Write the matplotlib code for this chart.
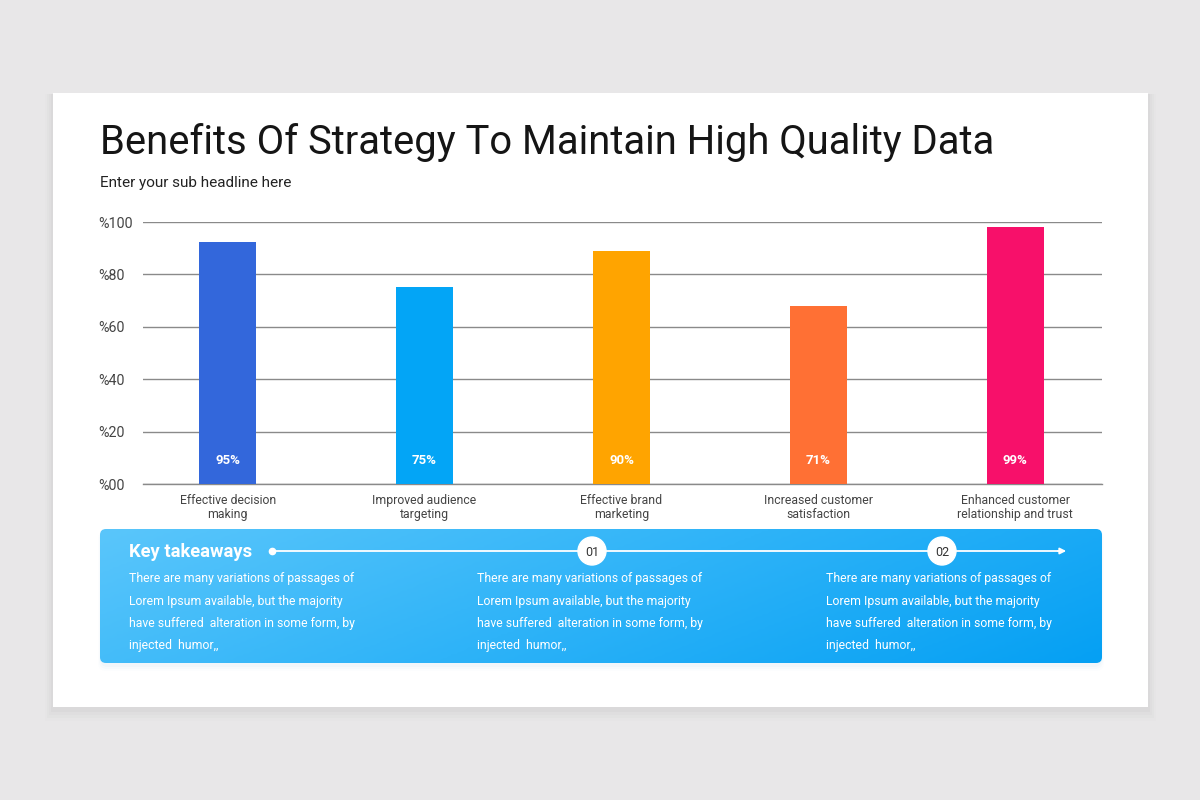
import numpy as np
import matplotlib.pyplot as plt
from matplotlib.patches import FancyBboxPatch, Rectangle, Circle
from matplotlib.colors import LinearSegmentedColormap

plt.rcParams['font.family'] = ['Roboto', 'DejaVu Sans']

# data
categories = ["Effective decision\nmaking", "Improved audience\ntargeting",
              "Effective brand\nmarketing", "Increased customer\nsatisfaction",
              "Enhanced customer\nrelationship and trust"]
bar_values = [92.5, 75.2, 88.9, 67.9, 98.1]
value_labels = ["95%", "75%", "90%", "71%", "99%"]
bar_colors = ["#3367db", "#03a5f6", "#ffa400", "#ff7034", "#f7106a"]
y_ticks = [0, 20, 40, 60, 80, 100]
y_tick_labels = ["%00", "%20", "%40", "%60", "%80", "%100"]

title = "Benefits Of Strategy To Maintain High Quality Data"
subtitle = "Enter your sub headline here"
box_title = "Key takeaways"
step_labels = ["01", "02"]
body = ("There are many variations of passages of\n"
        "Lorem Ipsum available, but the majority\n"
        "have suffered  alteration in some form, by\n"
        "injected  humor,,")

W, H = 1200, 800
fig = plt.figure(figsize=(12, 8), dpi=100)
fig.patch.set_facecolor("#e8e7e8")

# overlay in pixel coordinates for the slide decorations
bg = fig.add_axes([0, 0, 1, 1])
bg.set_xlim(0, W)
bg.set_ylim(H, 0)
bg.axis("off")

# card shadow + card
for i, a in enumerate([0.05, 0.04, 0.03, 0.02]):
    bg.add_patch(Rectangle((53 - 2 - i * 2, 93 + 1), 1095 + 4 + i * 4, 614 + 4 + i * 3,
                           color="#888888", alpha=a, lw=0, zorder=1))
bg.add_patch(Rectangle((53, 93), 1095, 614, color="white", lw=0, zorder=2))

bg.text(100, 142, title, fontsize=28.8, color="#151515", va="center", ha="left", zorder=3)
bg.text(100, 183, subtitle, fontsize=11, color="#222222", va="center", ha="left", zorder=3)

# takeaway box with gradient
bx0, by0, bx1, by1 = 100, 529, 1102, 663
for i, a in enumerate([0.04, 0.03, 0.02]):
    bg.add_patch(FancyBboxPatch((bx0 - i, by0 + 2), bx1 - bx0 + 2 * i, by1 - by0 + 2 + 2 * i,
                                boxstyle="round,pad=0,rounding_size=8",
                                color="#6ab0d8", alpha=a, lw=0, zorder=2))
box = FancyBboxPatch((bx0, by0), bx1 - bx0, by1 - by0,
                     boxstyle="round,pad=0,rounding_size=6", fc="none", lw=0, zorder=3)
bg.add_patch(box)
gx, gy = np.meshgrid(np.linspace(0, 1, 300), np.linspace(0, 1, 60))
grad = 0.75 * gx + 0.25 * gy
cmap = LinearSegmentedColormap.from_list("g", ["#5ac6fb", "#2eb3f8", "#05a0f3"])
img = bg.imshow(grad, cmap=cmap, extent=[bx0, bx1, by1, by0], aspect="auto",
                origin="upper", zorder=3)
img.set_clip_path(box)

bg.text(129, 552, box_title, fontsize=13.2, fontweight="bold", color="white",
        va="center", ha="left", zorder=4)
bg.plot([272, 1062], [551, 551], color="white", lw=1.3, zorder=4)
bg.plot(272, 551, "o", color="white", ms=4.5, zorder=4)
bg.annotate("", xy=(1069, 551), xytext=(1055, 551),
            arrowprops=dict(arrowstyle="-|>", color="white", lw=1.3, mutation_scale=9), zorder=4)
for cx, lab in zip([592, 942], step_labels):
    bg.add_patch(Circle((cx, 551), 14, color="white", zorder=5))
    bg.text(cx, 552, lab, fontsize=9, color="#333333", ha="center", va="center", zorder=6)
for tx in [129, 477, 826]:
    bg.text(tx, 572, body, fontsize=8.85, color="white", ha="left", va="top",
            linespacing=1.95, zorder=4)

# bar chart
ax = fig.add_axes([143 / W, 1 - 484 / H, (1102 - 143) / W, (484 - 222) / H])
ax.set_facecolor("none")
x = np.arange(len(categories))
bars = ax.bar(x, bar_values, width=0.29, color=bar_colors, zorder=3)
for rect, lab in zip(bars, value_labels):
    ax.text(rect.get_x() + rect.get_width() / 2, 9.0, lab, ha="center", va="center",
            color="white", fontsize=9.5, fontweight="bold", zorder=4)
ax.set_xlim(-0.43, 4.44)
ax.set_ylim(0, 100)
ax.set_yticks(y_ticks)
ax.set_yticklabels(y_tick_labels, ha="left", fontsize=10.3, color="#444444")
ax.tick_params(axis="y", length=0, pad=32)
ax.set_xticks(x)
ax.set_xticklabels(categories, fontsize=8.8, color="#444444", linespacing=1.15)
ax.tick_params(axis="x", length=0, pad=7)
ax.yaxis.grid(True, color="#8a8a8a", lw=1, zorder=0)
ax.set_axisbelow(True)
for s in ax.spines.values():
    s.set_visible(False)
ax.axhline(0, color="#8a8a8a", lw=1, zorder=1, clip_on=False)

fig.savefig("out.png", dpi=100, facecolor=fig.get_facecolor())
